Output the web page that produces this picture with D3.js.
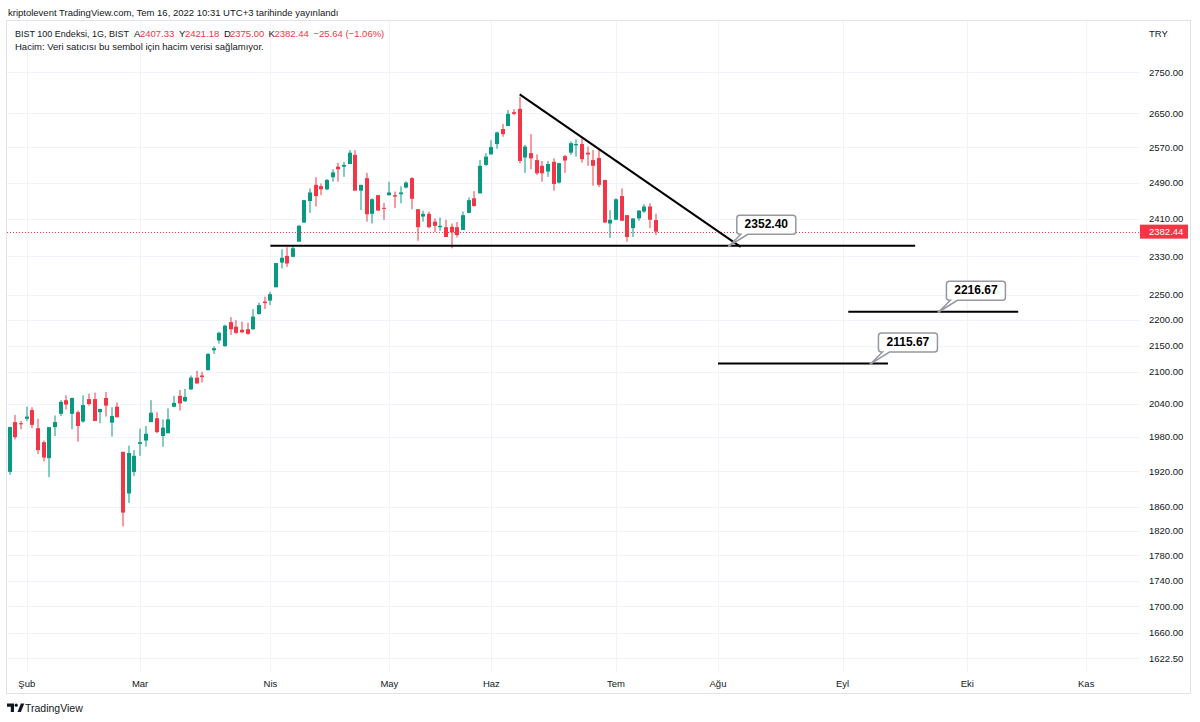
<!DOCTYPE html>
<html>
<head>
<meta charset="utf-8">
<script src="https://cdn.jsdelivr.net/npm/d3@7"></script>
<style>
  body { margin: 0; background: #fff; }
  svg { display: block; font-family: "Liberation Sans", Arial, sans-serif; }
</style>
</head>
<body>
<script>
// BIST 100, daily bars. bar index 0 = 1 Feb 2022, first visible bar = 27 Jan
var firstBar = -3;
var opens = [1919, 2007, 2005, 2013, 2029, 1996, 1971, 1943, 1998, 2022,
  2047, 2022, 2025, 2008, 2049, 2049, 2025, 2051, 2006, 2035,
  1954, 1882, 1919, 1968, 1974, 2007, 2014, 1982, 1987, 2035,
  2055, 2045, 2067, 2089, 2093, 2103, 2141, 2160, 2149, 2196,
  2187, 2181, 2182, 2182, 2212, 2237, 2239, 2266, 2317, 2331,
  2329, 2361, 2402, 2449, 2485, 2482, 2475, 2502, 2526, 2526,
  2532, 2553, 2472, 2500, 2421, 2462, 2434, 2462, 2462, 2464,
  2479, 2500, 2431, 2415, 2421, 2404, 2392, 2392, 2393, 2392,
  2386, 2423, 2455, 2466, 2530, 2554, 2578, 2613, 2620, 2653,
  2661, 2547, 2557, 2541, 2528, 2515, 2537, 2490, 2550, 2558,
  2575, 2578, 2558, 2541, 2546, 2496, 2400, 2408, 2460, 2418,
  2390, 2411, 2426, 2437, 2407.33];
var highs = [1999, 2020, 2009, 2035, 2034, 2013, 1974, 1998, 2019, 2047,
  2056, 2052, 2028, 2056, 2059, 2061, 2031, 2062, 2034, 2043,
  1954, 1965, 1957, 1995, 2000, 2047, 2025, 2012, 2032, 2055,
  2066, 2068, 2093, 2102, 2100, 2136, 2149, 2177, 2191, 2206,
  2200, 2197, 2195, 2222, 2235, 2247, 2257, 2316, 2345, 2349,
  2354, 2397, 2451, 2477, 2502, 2488, 2498, 2520, 2535, 2537,
  2564, 2564, 2485, 2512, 2455, 2462, 2445, 2492, 2470, 2482,
  2493, 2502, 2431, 2428, 2426, 2411, 2413, 2408, 2400, 2403,
  2426, 2457, 2471, 2541, 2557, 2587, 2607, 2625, 2658, 2660,
  2690, 2576, 2601, 2554, 2539, 2539, 2545, 2535, 2553, 2584,
  2589, 2591, 2572, 2564, 2564, 2496, 2429, 2455, 2477, 2418,
  2411, 2429, 2442, 2444, 2421.18];
var lows = [1914, 1976, 1994, 2009, 1996, 1950, 1937, 1910, 1982, 2018,
  2030, 1994, 1972, 2006, 2037, 2009, 2005, 2017, 1981, 2015,
  1827, 1866, 1912, 1947, 1963, 2007, 1987, 1963, 1987, 2034,
  2028, 2044, 2066, 2078, 2080, 2103, 2134, 2154, 2148, 2171,
  2173, 2174, 2171, 2181, 2211, 2222, 2230, 2266, 2305, 2308,
  2328, 2361, 2402, 2423, 2437, 2462, 2473, 2492, 2492, 2503,
  2532, 2472, 2429, 2404, 2400, 2428, 2408, 2461, 2434, 2444,
  2477, 2431, 2363, 2404, 2390, 2382, 2384, 2371, 2347, 2370,
  2386, 2422, 2437, 2466, 2528, 2554, 2567, 2595, 2620, 2646,
  2534, 2512, 2520, 2507, 2492, 2503, 2472, 2488, 2512, 2553,
  2549, 2535, 2528, 2483, 2480, 2402, 2369, 2408, 2406, 2361,
  2371, 2406, 2423, 2390, 2375];
var closes = [1998, 1980, 2003, 2017, 2002, 1957, 1944, 1998, 2007, 2044,
  2039, 2051, 2000, 2038, 2040, 2009, 2031, 2037, 2018, 2016,
  1850, 1952, 1947, 1971, 1986, 2024, 1989, 1997, 2012, 2042,
  2041, 2053, 2089, 2078, 2090, 2134, 2145, 2175, 2189, 2182,
  2175, 2176, 2173, 2207, 2230, 2234, 2252, 2316, 2327, 2315,
  2347, 2395, 2451, 2468, 2460, 2475, 2496, 2513, 2520, 2530,
  2558, 2472, 2485, 2420, 2453, 2428, 2432, 2468, 2459, 2468,
  2490, 2454, 2392, 2421, 2392, 2395, 2395, 2371, 2381, 2375,
  2418, 2451, 2438, 2528, 2549, 2571, 2605, 2601, 2649, 2649,
  2539, 2572, 2545, 2511, 2511, 2532, 2487, 2534, 2540, 2580,
  2578, 2543, 2554, 2528, 2485, 2402, 2408, 2453, 2406, 2371,
  2411, 2428, 2437, 2408.08, 2382.44];

var monthLabels = ["Şub", "Mar", "Nis", "May", "Haz", "Tem", "Ağu", "Eyl", "Eki", "Kas"];
var monthBars = [0, 20, 43, 64, 82, 104, 122, 144, 166, 187];

var priceTicks = [2750, 2650, 2570, 2490, 2410, 2330, 2250, 2200, 2150, 2100,
  2040, 1980, 1920, 1860, 1820, 1780, 1740, 1700, 1660, 1622.5];

// drawn levels (value, from bar, to bar, callout anchor bar)
var levelValues = [2352.40, 2216.67, 2115.67];
var levelFrom = [43, 145, 122];
var levelTo = [156.8, 175, 152];
var calloutBars = [124, 161, 149];

var trendBars = [87, 126];
var trendPrices = [2696, 2350];

var lastPrice = 2382.44;

var width = 1200, height = 722;
var plotLeft = 7, plotRight = 1140, plotTop = 20, plotBottom = 672;
var upColor = "#089981", downColor = "#f23645", textColor = "#131722", gridColor = "#f0f3fa";

var svg = d3.select("body").append("svg")
    .attr("width", width)
    .attr("height", height);

var x = d3.scaleLinear().domain([0, 104]).range([26.8, 616]);
var y = d3.scaleLog().domain([1622.5, 2750]).range([658.3, 72.3]);
var fmt = d3.format(".2f");

svg.append("defs").append("clipPath").attr("id", "plot")
    .append("rect")
    .attr("x", plotLeft).attr("y", plotTop)
    .attr("width", plotRight - plotLeft).attr("height", plotBottom - plotTop);

// frame
svg.append("rect")
    .attr("x", plotLeft - 0.5).attr("y", plotTop + 0.5)
    .attr("width", 1191 - plotLeft).attr("height", 693 - plotTop)
    .attr("fill", "none").attr("stroke", "#e0e3eb");

// grid
svg.append("g").selectAll("line")
    .data(priceTicks)
    .join("line")
    .attr("x1", plotLeft).attr("x2", plotRight)
    .attr("y1", d => Math.round(y(d)) + 0.5).attr("y2", d => Math.round(y(d)) + 0.5)
    .attr("stroke", gridColor);

svg.append("g").selectAll("line")
    .data(monthBars)
    .join("line")
    .attr("x1", d => Math.round(x(d)) + 0.5).attr("x2", d => Math.round(x(d)) + 0.5)
    .attr("y1", plotTop + 1).attr("y2", plotBottom)
    .attr("stroke", gridColor);

// candles
var bars = opens.map(function(o, k) {
    return {i: firstBar + k, o: o, h: highs[k], l: lows[k], c: closes[k]};
});

var plot = svg.append("g").attr("clip-path", "url(#plot)");

var candle = plot.append("g").selectAll("g")
    .data(bars)
    .join("g")
    .attr("fill", d => d.c >= d.o ? upColor : downColor)
    .attr("stroke", d => d.c >= d.o ? upColor : downColor);

candle.append("line")
    .attr("x1", d => Math.round(x(d.i) - 2) + 2).attr("x2", d => Math.round(x(d.i) - 2) + 2)
    .attr("y1", d => y(d.h)).attr("y2", d => y(d.l))
    .attr("stroke-width", 1);

candle.append("rect")
    .attr("x", d => Math.round(x(d.i) - 2))
    .attr("width", 4)
    .attr("y", d => y(Math.max(d.o, d.c)))
    .attr("height", d => Math.max(1, y(Math.min(d.o, d.c)) - y(Math.max(d.o, d.c))))
    .attr("stroke", "none");

// last price line
plot.append("line")
    .attr("x1", plotLeft).attr("x2", plotRight)
    .attr("y1", Math.round(y(lastPrice)) + 0.5).attr("y2", Math.round(y(lastPrice)) + 0.5)
    .attr("stroke", downColor)
    .attr("stroke-dasharray", "1,2");

// horizontal levels
plot.append("g").selectAll("line")
    .data(levelValues)
    .join("line")
    .attr("x1", (d, k) => x(levelFrom[k])).attr("x2", (d, k) => x(levelTo[k]))
    .attr("y1", d => y(d)).attr("y2", d => y(d))
    .attr("stroke", "#000").attr("stroke-width", 2);

// trend line
plot.append("line")
    .attr("x1", x(trendBars[0])).attr("y1", y(trendPrices[0]))
    .attr("x2", x(trendBars[1])).attr("y2", y(trendPrices[1]))
    .attr("stroke", "#000").attr("stroke-width", 2);

// callouts
var callout = plot.append("g").selectAll("g")
    .data(levelValues)
    .join("g");

callout.append("path")
    .attr("d", function(d, k) {
        var ax = x(calloutBars[k]), ay = y(d);
        var x0 = ax + 7.5, x1 = x0 + 59, y1 = ay - 11.5, y0 = y1 - 19, r = 3;
        return "M" + (x0 + r) + "," + y0 + "H" + (x1 - r) + "Q" + x1 + "," + y0 + " " + x1 + "," + (y0 + r) +
            "V" + (y1 - r) + "Q" + x1 + "," + y1 + " " + (x1 - r) + "," + y1 +
            "H" + (x0 + 11) + "L" + ax + "," + ay + "L" + (x0 + 4) + "," + y1 +
            "H" + (x0 + r) + "Q" + x0 + "," + y1 + " " + x0 + "," + (y1 - r) +
            "V" + (y0 + r) + "Q" + x0 + "," + y0 + " " + (x0 + r) + "," + y0 + "Z";
    })
    .attr("fill", "#fff").attr("stroke", "#9598a1").attr("stroke-width", 1.5);

callout.append("circle")
    .attr("cx", (d, k) => x(calloutBars[k])).attr("cy", d => y(d))
    .attr("r", 1.5).attr("fill", "#9598a1");

callout.append("text")
    .attr("x", (d, k) => x(calloutBars[k]) + 37)
    .attr("y", d => y(d) - 21)
    .attr("text-anchor", "middle").attr("dominant-baseline", "middle")
    .attr("font-size", 12).attr("font-weight", "bold").attr("fill", "#000")
    .text(d => fmt(d));

// price axis
var axis = svg.append("g").attr("font-size", 9.5).attr("fill", textColor);
axis.selectAll("text")
    .data(priceTicks)
    .join("text")
    .attr("x", 1149)
    .attr("y", d => y(d))
    .attr("dy", "0.35em")
    .text(d => fmt(d));

svg.append("text").attr("x", 1149).attr("y", 36.5)
    .attr("font-size", 9.5).attr("fill", textColor).text("TRY");

svg.append("rect")
    .attr("x", 1140).attr("y", y(lastPrice) - 7)
    .attr("width", 48).attr("height", 14)
    .attr("fill", downColor);
svg.append("text")
    .attr("x", 1149).attr("y", y(lastPrice)).attr("dy", "0.35em")
    .attr("font-size", 9.5).attr("fill", "#fff")
    .text(fmt(lastPrice));

// time axis
svg.append("g").selectAll("text")
    .data(monthLabels)
    .join("text")
    .attr("x", (d, k) => x(monthBars[k]))
    .attr("y", 686.5)
    .attr("text-anchor", "middle")
    .attr("font-size", 9.5).attr("fill", textColor)
    .text(d => d);

// header
svg.append("text").attr("x", 8).attr("y", 15.5)
    .attr("font-size", 9.5).attr("fill", textColor)
    .text("kriptolevent TradingView.com, Tem 16, 2022 10:31 UTC+3 tarihinde yayınlandı");

var legend = [
    {t: "BIST 100 Endeksi, 1G, BIST", x: 15, red: false},
    {t: "A", x: 134, red: false}, {t: "2407.33", x: 140, red: true},
    {t: "Y", x: 179, red: false}, {t: "2421.18", x: 185, red: true},
    {t: "D", x: 224, red: false}, {t: "2375.00", x: 230, red: true},
    {t: "K", x: 268.5, red: false}, {t: "2382.44", x: 274.5, red: true},
    {t: "−25.64 (−1.06%)", x: 313.5, red: true}
];
svg.append("g").selectAll("text")
    .data(legend)
    .join("text")
    .attr("x", d => d.x).attr("y", 36.5)
    .attr("font-size", d => d.x === 15 ? 9 : 9.5)
    .attr("fill", d => d.red ? downColor : textColor)
    .text(d => d.t);

svg.append("text").attr("x", 15).attr("y", 50)
    .attr("font-size", 9.5).attr("fill", textColor)
    .text("Hacim: Veri satıcısı bu sembol için hacim verisi sağlamıyor.");

// TradingView mark
var logo = svg.append("g").attr("fill", textColor);
logo.append("path").attr("d", "M7,703.5h7v8.5h-3.2v-5.3H7z");
logo.append("circle").attr("cx", 16.2).attr("cy", 705.2).attr("r", 1.6);
logo.append("path").attr("d", "M17.5,712h3.4l3.4-8.5h-3.4z");
svg.append("text").attr("x", 25).attr("y", 711.5)
    .attr("font-size", 10.5).attr("fill", textColor)
    .text("TradingView");
</script>
</body>
</html>
